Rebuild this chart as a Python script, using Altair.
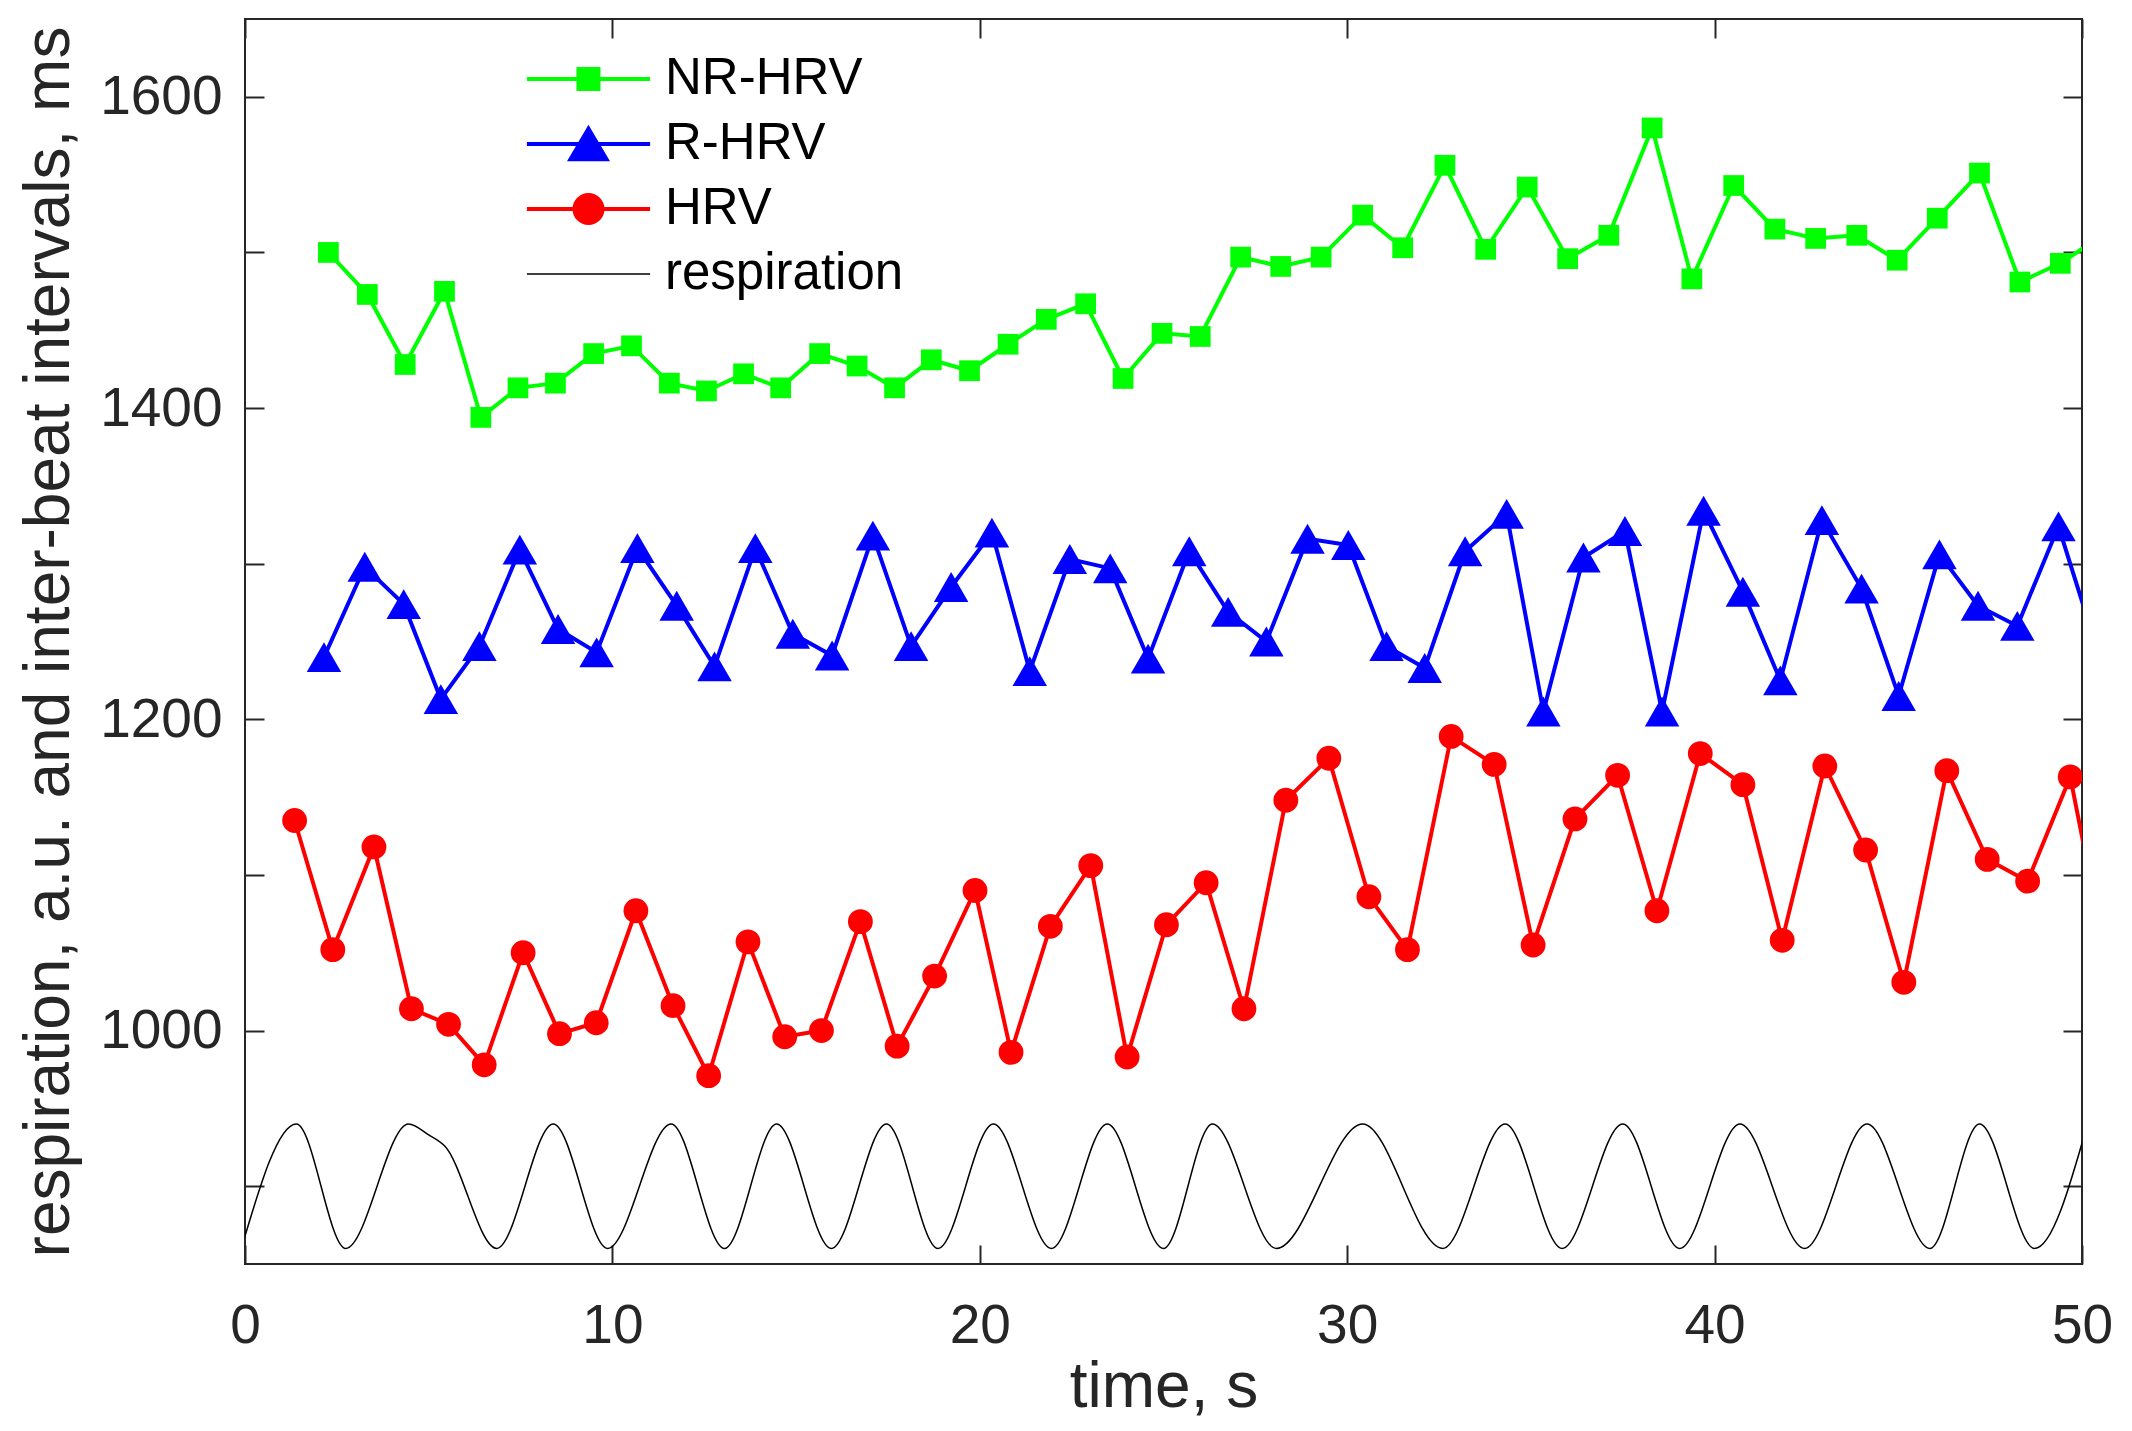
import altair as alt
import pandas as pd

# ---------------- data ----------------
SERIES = ["NR-HRV", "R-HRV", "HRV", "respiration"]
COLORS = ["#00FF00", "#0000FF", "#FF0000", "#000000"]

nr_t = [2.27, 3.33, 4.36, 5.43, 6.42, 7.43, 8.45, 9.49, 10.52, 11.55, 12.56, 13.57,
        14.58, 15.64, 16.66, 17.68, 18.68, 19.72, 20.77, 21.81, 22.88, 23.90, 24.96,
        26.00, 27.10, 28.19, 29.29, 30.42, 31.51, 32.66, 33.77, 34.90, 36.00, 37.12,
        38.30, 39.38, 40.52, 41.64, 42.75, 43.87, 44.97, 46.06, 47.21, 48.31, 49.41, 50.50]
nr_v = [1500, 1473, 1428, 1475, 1394, 1413, 1416, 1435, 1440, 1416, 1411, 1422,
        1413, 1435, 1427, 1413, 1431, 1424, 1441, 1457, 1467, 1419, 1448,
        1446, 1497, 1491, 1497, 1524, 1503, 1556, 1502, 1542, 1496, 1511,
        1580, 1483, 1543, 1515, 1509, 1511, 1495, 1522, 1551, 1481, 1493, 1510]

r_t = [2.15, 3.26, 4.32, 5.33, 6.38, 7.48, 8.52, 9.57, 10.68, 11.75, 12.78, 13.89,
       14.91, 15.98, 17.09, 18.13, 19.22, 20.33, 21.36, 22.45, 23.55, 24.58, 25.70,
       26.76, 27.80, 28.92, 30.03, 31.07, 32.11, 33.21, 34.34, 35.34, 36.43, 37.56,
       38.57, 39.70, 40.77, 41.79, 42.92, 44.00, 45.01, 46.12, 47.17, 48.24, 49.36, 50.45]
r_v = [1240, 1298, 1274, 1213, 1247, 1309, 1258, 1243, 1310, 1273, 1234, 1310,
       1255, 1241, 1318, 1247, 1285, 1320, 1231, 1303, 1297, 1239, 1308,
       1269, 1250, 1316, 1312, 1247, 1233, 1308, 1332, 1205, 1304, 1321,
       1205, 1334, 1282, 1225, 1328, 1284, 1215, 1306, 1273, 1260, 1324, 1242]

h_t = [1.35, 2.39, 3.51, 4.53, 5.54, 6.51, 7.57, 8.56, 9.56, 10.64, 11.65, 12.62,
       13.69, 14.69, 15.69, 16.75, 17.75, 18.77, 19.87, 20.85, 21.92, 23.02, 24.01,
       25.08, 26.16, 27.19, 28.33, 29.50, 30.59, 31.64, 32.83, 34.00, 35.06, 36.20,
       37.36, 38.43, 39.61, 40.77, 41.84, 43.00, 44.11, 45.15, 46.32, 47.42, 48.52,
       49.68, 50.75]
h_v = [1135, 1052, 1118, 1014, 1004, 978, 1050, 998, 1005, 1077, 1016, 971,
       1057, 996, 1000, 1070, 990, 1035, 1090, 986, 1067, 1106, 983,
       1068, 1095, 1014, 1148, 1175, 1086, 1052, 1189, 1171, 1055, 1136,
       1164, 1077, 1178, 1158, 1058, 1170, 1116, 1031, 1167, 1110, 1096,
       1163, 1035]

resp_t = [-0.10, 1.40, 2.74, 4.45, 5.00, 5.43, 6.85, 8.39, 9.87, 11.60, 13.05, 14.47,
          15.96, 17.46, 18.86, 20.37, 21.95, 23.47, 25.00, 26.33, 28.07, 30.42, 32.60,
          34.30, 35.85, 37.50, 39.05, 40.69, 42.45, 44.15, 45.86, 47.21, 48.71, 50.15]
resp_v = [860, 940, 860, 940, 933, 926, 860, 940, 860, 940, 860, 940,
          860, 940, 860, 940, 860, 940, 860, 940, 860, 940, 860,
          940, 860, 940, 860, 940, 860, 940, 860, 940, 860, 940]

X_TICKS = [0, 10, 20, 30, 40, 50]
Y_LABELS = [1000, 1200, 1400, 1600]
Y_TICKS = [900, 1000, 1100, 1200, 1300, 1400, 1500, 1600]

# legend glyphs: line segment with the series marker (unit = sqrt(symbolSize)/2 px)
LEGEND_PATHS = [
    "M-3.08,0L3.08,0M-0.5,-0.5L0.5,-0.5L0.5,0.5L-0.5,0.5Z",
    "M-3.08,0L3.08,0M0,-0.76L0.9,0.76L-0.9,0.76Z",
    "M-3.08,0L3.08,0M0.7,0C0.7,0.3866,0.3866,0.7,0,0.7C-0.3866,0.7,-0.7,0.3866,-0.7,0"
    "C-0.7,-0.3866,-0.3866,-0.7,0,-0.7C0.3866,-0.7,0.7,-0.3866,0.7,0Z",
    "M-3.08,0L3.08,0",
]
LEGEND_WIDTHS = [4, 4, 4, 1.5]


def frame(t, v, name):
    return pd.DataFrame({"t": t, "v": v, "series": name})


df_nr = frame(nr_t, nr_v, "NR-HRV")
df_r = frame(r_t, r_v, "R-HRV")
df_h = frame(h_t, h_v, "HRV")
df_resp = frame(resp_t, resp_v, "respiration")
df_leg = pd.DataFrame({"series": SERIES, "t": [-20] * 4, "v": [900] * 4})

# ---------------- styling ----------------
W, H = 1837, 1245
FONT = "Liberation Sans"
INK = "#262626"

xs = alt.Scale(domain=[0, 50], nice=False, zero=False)
ys = alt.Scale(domain=[850, 1650], nice=False, zero=False)

main_x = alt.Axis(values=X_TICKS, orient="bottom", title="time, s", ticks=False, tickSize=0,
                  domain=False, grid=False, labelFont=FONT, labelFontSize=55, labelColor=INK,
                  labelPadding=78, labelBaseline="alphabetic", labelFlush=False,
                  labelOverlap=False, titleFont=FONT, titleFontSize=64, titleColor=INK,
                  titleFontWeight="normal", titleX=W / 2, titleY=142, titleAlign="center",
                  titleBaseline="alphabetic")
main_y = alt.Axis(values=Y_LABELS, orient="left", format="d",
                  title="respiration, a.u. and inter-beat intervals, ms", ticks=False,
                  tickSize=0, domain=False, grid=False, labelFont=FONT, labelFontSize=55,
                  labelColor=INK, labelPadding=23, labelAlign="right", labelBaseline="middle",
                  labelFlush=False, labelOverlap=False, titleFont=FONT, titleFontSize=64,
                  titleColor=INK, titleFontWeight="normal", titleAngle=270, titleX=-177,
                  titleY=H / 2, titleAlign="center", titleBaseline="alphabetic")


def tick_axis(values, orient, offset):
    return alt.Axis(values=values, orient=orient, offset=offset, labels=False, domain=False,
                    grid=False, ticks=True, tickSize=19, tickWidth=2, tickColor=INK, title=None)


ax_x_bottom_in = tick_axis(X_TICKS, "top", -H)
ax_x_top_in = tick_axis(X_TICKS, "bottom", -H)
ax_y_left_in = tick_axis(Y_TICKS, "right", -W)
ax_y_right_in = tick_axis(Y_TICKS, "left", -W)


def line(df, color, width, xaxis=None, yaxis=None, interp="linear"):
    return alt.Chart(df).mark_line(strokeWidth=width, clip=True, interpolate=interp).encode(
        x=alt.X("t:Q", scale=xs, axis=xaxis),
        y=alt.Y("v:Q", scale=ys, axis=yaxis),
        color=alt.value(color),
    )


def points(df, color, shape, size):
    return alt.Chart(df).transform_filter(alt.datum.t <= 50).mark_point(
        shape=shape, filled=True, size=size, opacity=1, clip=True
    ).encode(
        x=alt.X("t:Q", scale=xs, axis=None),
        y=alt.Y("v:Q", scale=ys, axis=None),
        color=alt.value(color),
    )


resp_line = line(df_resp, COLORS[3], 1.5, main_x, main_y, "monotone")
h_line = line(df_h, COLORS[2], 4, ax_x_bottom_in, ax_y_left_in)
r_line = line(df_r, COLORS[1], 4, ax_x_top_in, ax_y_right_in)
nr_line = line(df_nr, COLORS[0], 4)

h_pts = points(df_h, COLORS[2], "circle", 616)
r_pts = points(df_r, COLORS[1], "triangle-up", 1190)
nr_pts = points(df_nr, COLORS[0], "square", 430)

# legend carrier: rows lie outside the x domain and are clipped away
carrier = alt.Chart(df_leg).mark_point(filled=True, opacity=1, clip=True).encode(
    x=alt.X("t:Q", scale=xs, axis=None),
    y=alt.Y("v:Q", scale=ys, axis=None),
    color=alt.Color("series:N", scale=alt.Scale(domain=SERIES, range=COLORS),
                    legend=alt.Legend(title=None)),
    stroke=alt.Stroke("series:N", scale=alt.Scale(domain=SERIES, range=COLORS),
                      legend=alt.Legend(title=None)),
    shape=alt.Shape("series:N", scale=alt.Scale(domain=SERIES, range=LEGEND_PATHS),
                    legend=alt.Legend(title=None)),
    strokeWidth=alt.StrokeWidth("series:N",
                                scale=alt.Scale(type="ordinal", domain=SERIES,
                                                range=LEGEND_WIDTHS),
                                legend=alt.Legend(title=None)),
)

chart = alt.layer(
    resp_line, h_line, r_line, nr_line, h_pts, r_pts, nr_pts, carrier
).resolve_axis(
    x="independent", y="independent"
).properties(
    width=W, height=H,
    padding={"left": 237, "top": 11, "right": 30, "bottom": 159},
    autosize=alt.AutoSizeParams(type="none"),
    background="white",
).configure_view(
    stroke=INK, strokeWidth=2
).configure_legend(
    orient="none", legendX=318, legendY=34.5, padding=0, rowPadding=13, labelOffset=51,
    symbolOffset=0, symbolSize=1600, labelFont=FONT, labelFontSize=51, labelColor="black",
    labelLimit=0, columns=1, direction="vertical", symbolOpacity=1, symbolStrokeWidth=4,
)

chart.save("out.html", embed_options={"renderer": "svg", "actions": False})
